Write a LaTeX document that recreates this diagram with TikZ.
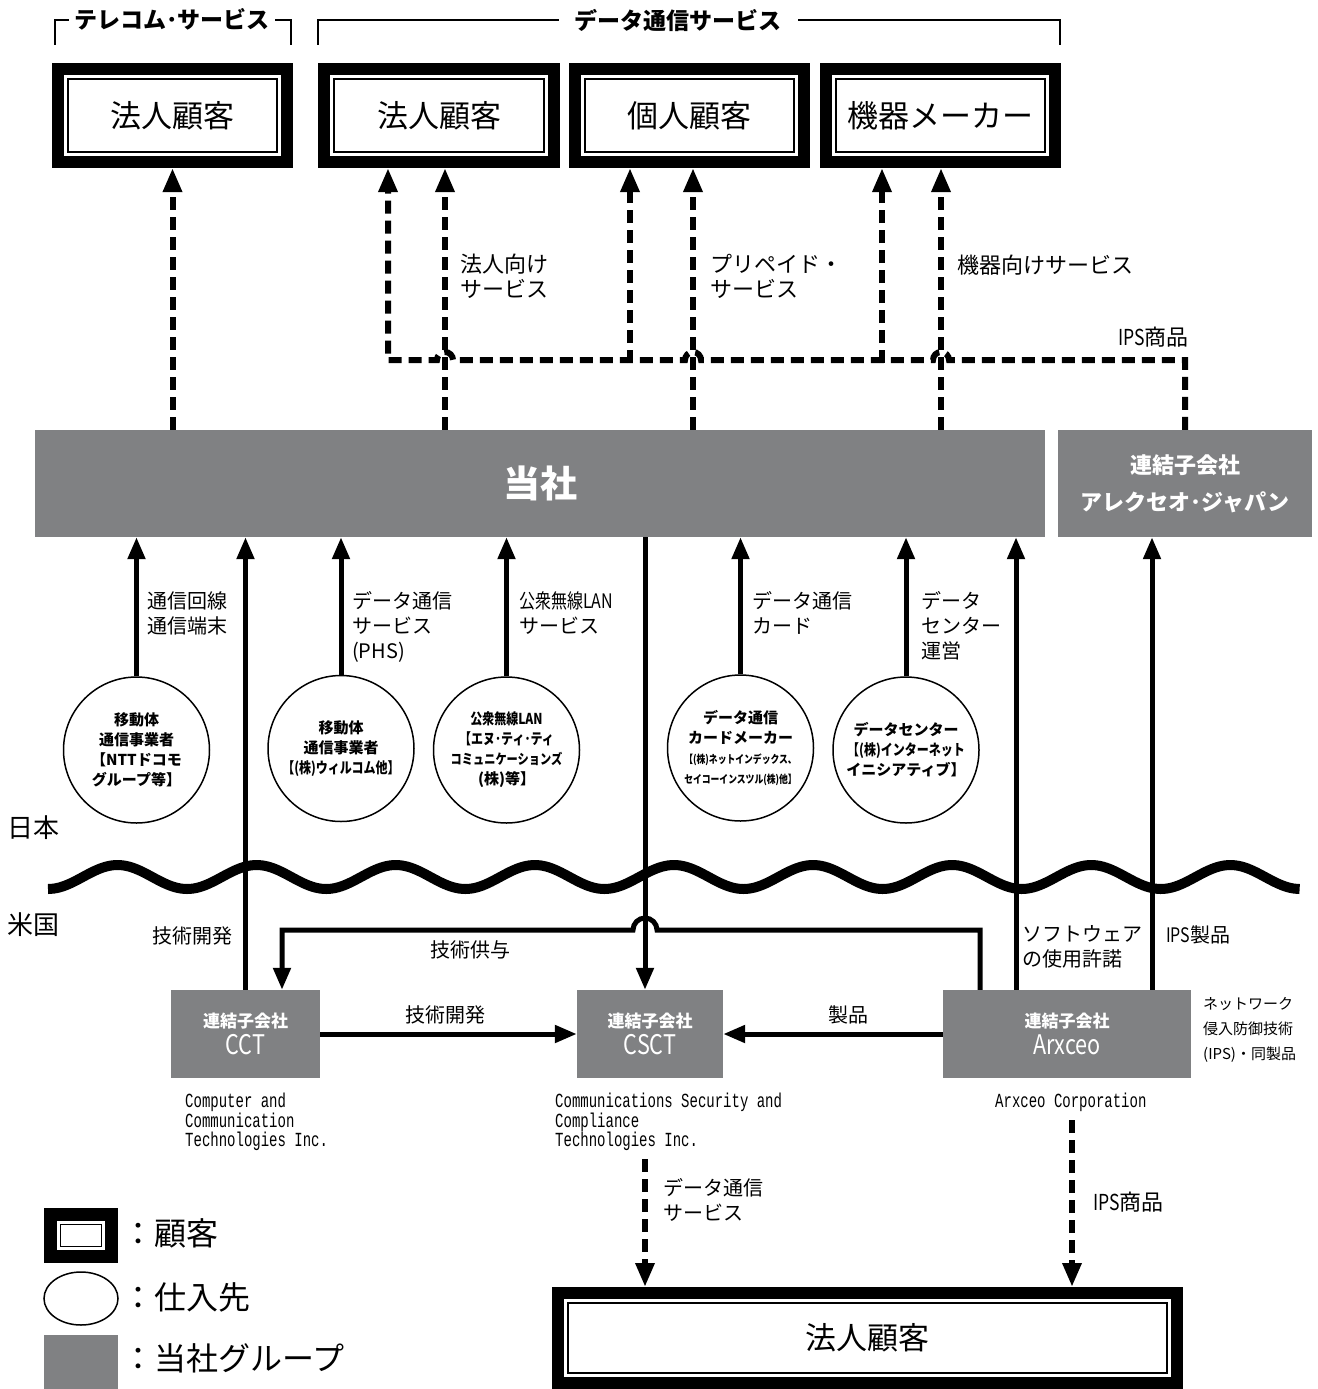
\documentclass[tikz,border=0pt]{standalone}
\usepackage{fontspec}
\setmainfont{Noto Sans CJK JP}
\newfontfamily\narrowfont[FakeStretch=0.8]{Noto Sans CJK JP}
\newfontfamily\engmono[FakeStretch=0.7]{Liberation Mono}
\usetikzlibrary{arrows.meta, shapes.geometric}
\definecolor{groupgray}{RGB}{128,129,131}
\newcommand\fsz[2]{\fontsize{#1}{#2}\selectfont}

\tikzset{
  custbox/.style={draw=black, line width=12pt, fill=white, inner sep=0pt,
    font=\fsz{31}{36},
    path picture={\draw[line width=1.2pt]
      ([xshift=10pt,yshift=-10pt]path picture bounding box.north west) rectangle
      ([xshift=-10pt,yshift=10pt]path picture bounding box.south east);}},
  grpbox/.style={fill=groupgray, text=white, inner sep=0pt, align=center},
  supp/.style={circle, draw, line width=1.5pt, minimum size=146pt, inner sep=0pt,
    align=center, font=\fsz{15}{20}\bfseries},
  flow/.style={line width=5pt, -{Triangle[width=17pt,length=22pt]}},
  dflow/.style={line width=6pt, dash pattern=on 13pt off 7pt,
    -{Triangle[width=18pt,length=24pt]}},
  brk/.style={line width=1.5pt},
  hdr/.style={fill=white, inner ysep=2pt, font=\fsz{23}{26}\bfseries},
  lbl/.style={inner sep=0pt, align=left, font=\fsz{20}{25}},
  biglbl/.style={inner sep=0pt, align=left, font=\fsz{22}{25}},
  eng/.style={inner sep=0pt, align=left, font=\engmono\fsz{20}{19.5}},
}

\begin{document}
\begin{tikzpicture}[x=1pt, y=-1pt]
\useasboundingbox (0,0) rectangle (1317,1389);

% customers
\node[custbox, minimum width=229pt, minimum height=93pt] (tel) at (172.5,115.5) {法人顧客};
\node[custbox, minimum width=230pt, minimum height=93pt] (corp) at (439,115.5) {法人顧客};
\node[custbox, minimum width=229pt, minimum height=93pt] (pers) at (689.5,115.5) {個人顧客};
\node[custbox, minimum width=229pt, minimum height=93pt] (maker) at (940.5,115.5) {機器メーカー};

% brackets
\draw[brk] (55,45) -- (55,20) -- (291,20) -- (291,45);
\node[hdr, inner xsep=5pt] (hdtel) at (172,19) {テレコム･サービス};
\draw[brk] (318,45) -- (318,20) -- (1060,20) -- (1060,45);
\node[hdr, inner xsep=16pt] (hddata) at (678,20) {データ通信サービス};

% group boxes
\node[grpbox, minimum width=1010pt, minimum height=107pt, font=\fsz{37}{40}\bfseries] (tosha) at (540,483.5) {当社};
\node[grpbox, minimum width=254pt, minimum height=107pt, font=\fsz{22}{37}\bfseries] (ajp) at (1185,483.5) {連結子会社\\アレクセオ･ジャパン};

% services to customers
\draw[dflow] (tel.south |- tosha.north) -- (tel.south);
\draw[dflow] (445,0 |- tosha.north) -- (445,0 |- corp.south);
\draw[dflow] (693,0 |- tosha.north) -- (693,0 |- pers.south);
\draw[dflow] (941,0 |- tosha.north) -- (941,0 |- maker.south);
\draw[dflow] (ajp.north) -- (1185,360) -- (949,360) arc[start angle=0, end angle=-180, radius=8]
  -- (701,360) arc[start angle=0, end angle=-180, radius=8]
  -- (453,360) arc[start angle=0, end angle=-180, radius=8]
  -- (388,360) -- (388,0 |- corp.south);
\draw[dflow] (630,363) -- (630,0 |- pers.south);
\draw[dflow] (882,363) -- (882,0 |- maker.south);

\node[biglbl, anchor=north west] (lcorp) at (460,254) {法人向け\\サービス};
\node[biglbl, anchor=north west] (lpre) at (710,254) {プリペイド・\\サービス};
\node[biglbl, anchor=west] (ldev) at (957,265) {機器向けサービス};
\node[biglbl, anchor=west] (lips) at (1118,337) {{\narrowfont IPS}商品};

% suppliers
\node[supp] (c1) at (136.5,750) {移動体\\通信事業者\\【NTTドコモ\\グループ等】};
\node[supp] (c2) at (341,748.5) {移動体\\通信事業者\\{\narrowfont 【(株)ウィルコム他】}};
\node[supp] (c3) at (506.5,750) {{\narrowfont 公衆無線LAN}\\{\narrowfont 【エヌ･ティ･ティ}\\{\narrowfont\fsz{14}{18}コミュニケーションズ}\\(株)等】};
\node[supp] (c4) at (740.5,748) {データ通信\\カードメーカー\\{\narrowfont\fsz{11}{17}【(株)ネットインデックス、}\\{\narrowfont\fsz{11}{17}セイコーインスツル(株)他】}};
\node[supp] (c5) at (906,750) {データセンター\\{\narrowfont 【(株)インターネット}\\イニシアティブ】};

\foreach \c in {c1,c2,c3,c4,c5}
  \draw[flow] (\c.north) -- (\c.north |- tosha.south);

\node[lbl, anchor=north west] (l1) at (147,591) {通信回線\\通信端末};
\node[lbl, anchor=north west] (l2) at (352,591) {データ通信\\サービス\\(PHS)};
\node[lbl, anchor=north west] (l3) at (519,591) {{\narrowfont 公衆無線LAN}\\サービス};
\node[lbl, anchor=north west] (l4) at (752,591) {データ通信\\カード};
\node[lbl, anchor=north west] (l5) at (921,591) {データ\\センター\\運営};

% border
\draw[line width=10pt] plot[smooth, domain=0:9, samples=217] ({48+\x*139.1},{877+12*cos(\x*360)});
\node[anchor=west, inner sep=0pt, font=\fsz{26}{30}] (jp) at (7,828) {日本};
\node[anchor=west, inner sep=0pt, font=\fsz{26}{30}] (us) at (7,925) {米国};

% subsidiaries
\node[grpbox, minimum width=149pt, minimum height=88pt, font=\fsz{17}{27}\bfseries] (cct) at (245.5,1034) {連結子会社\\{\narrowfont\mdseries\fsz{27}{27}CCT}};
\node[grpbox, minimum width=146pt, minimum height=88pt, font=\fsz{17}{27}\bfseries] (csct) at (650,1034) {連結子会社\\{\narrowfont\mdseries\fsz{27}{27}CSCT}};
\node[grpbox, minimum width=248pt, minimum height=88pt, font=\fsz{17}{27}\bfseries] (arx) at (1067,1034) {連結子会社\\{\narrowfont\mdseries\fsz{27}{27}Arxceo}};

\draw[flow] (cct.north) -- (cct.north |- tosha.south);
\draw[flow] (645,0 |- tosha.south) -- (645,0 |- csct.north);
\draw[flow] (1016,0 |- arx.north) -- (1016,0 |- tosha.south);
\draw[flow] (1152,0 |- arx.north) -- (1152,0 |- ajp.south);
\draw[flow] (980,0 |- arx.north) -- (980,930) -- (657,930)
  arc[start angle=0, end angle=-180, radius=12] -- (282,930) -- (282,0 |- cct.north);
\draw[flow] (cct.east) -- (csct.west);
\draw[flow] (arx.west) -- (csct.east);

\node[lbl] (t1) at (192,936) {技術開発};
\node[lbl] (t2) at (470,950) {技術供与};
\node[lbl] (t3) at (445,1015) {技術開発};
\node[lbl] (t4) at (848,1015) {製品};
\node[lbl, anchor=north west] (t5) at (1022,925) {ソフトウェア\\の使用許諾};
\node[lbl, anchor=west] (t6) at (1166,935) {{\narrowfont IPS}製品};
\node[lbl, anchor=north west, font=\fsz{15}{25}] (t7) at (1203,997) {ネットワーク\\侵入防御技術\\(IPS)・同製品};

\node[eng, anchor=north west] (e1) at (185,1093) {Computer and\\Communication\\Technologies Inc.};
\node[eng, anchor=north west] (e2) at (555,1093) {Communications Security and\\Compliance\\Technologies Inc.};
\node[eng, anchor=north west] (e3) at (995,1093) {Arxceo Corporation};

% to corporate customers
\node[custbox, minimum width=619pt, minimum height=90pt] (bcorp) at (867.5,1338) {法人顧客};
\draw[dflow] (645,0 |- e2.south) ++(0,8) -- (645,0 |- bcorp.north);
\draw[dflow] (1072,0 |- e3.south) ++(0,8) -- (1072,0 |- bcorp.north);
\node[lbl, anchor=north west] (t8) at (663,1178) {データ通信\\サービス};
\node[biglbl, anchor=west] (t9) at (1093,1202) {{\narrowfont IPS}商品};

% legend
\node[custbox, line width=13pt, minimum width=61pt, minimum height=42pt] (lgcust) at (81,1235.5) {};
\node[ellipse, draw, line width=1.5pt, minimum width=74pt, minimum height=53pt] (lgsupp) at (81,1298.5) {};
\node[grpbox, minimum width=74pt, minimum height=54pt] (lggrp) at (81,1362) {};
\node[anchor=west, inner sep=0pt, font=\fsz{32}{36}] (lt1) at (122,1233) {：顧客};
\node[anchor=west, inner sep=0pt, font=\fsz{32}{36}] (lt2) at (122,1297) {：仕入先};
\node[anchor=west, inner sep=0pt, font=\fsz{32}{36}] (lt3) at (122,1358) {：当社グループ};
\end{tikzpicture}
\end{document}
